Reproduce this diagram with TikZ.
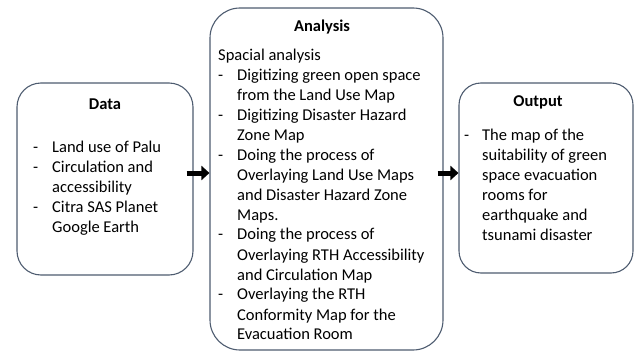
\documentclass[tikz,border=0pt]{standalone}
\usepackage{fontspec}
\setmainfont{Carlito}
\usetikzlibrary{arrows.meta,calc}
\definecolor{boxline}{RGB}{78,92,112}
\tikzset{
  box/.style={draw=boxline, line width=1.1pt, fill=white, inner sep=0pt},
  title/.style={font=\fontsize{16.5}{20}\selectfont\bfseries, inner sep=0pt},
  listtext/.style={font=\fontsize{16.5}{20}\selectfont, inner sep=0pt, anchor=base west, align=left},
  fatarrow/.style={line width=5pt, -{Triangle[length=8pt,width=14pt]}}
}
\begin{document}
\begin{tikzpicture}[x=1pt,y=-1pt]
\useasboundingbox (0,0) rectangle (635,356);
\node[box, rounded corners=24pt, minimum width=176pt, minimum height=192pt] (data) at (105,179) {};
\node[box, rounded corners=30pt, minimum width=233pt, minimum height=342pt] (analysis) at (326.5,179) {};
\node[box, rounded corners=22pt, minimum width=174pt, minimum height=190pt] (output) at (546,178) {};

\node[title] (datatitle) at (105,104) {Data};
\node[title] (analysistitle) at (322,27) {Analysis};
\node[title] (outputtitle) at (538,102) {Output};

\node[listtext] (datalist) at (33,152) {\begin{tabular}[t]{@{}p{19pt}@{}l@{}}
- & Land use of Palu\\
- & Circulation and\\
  & accessibility\\
- & Citra SAS Planet\\
  & Google Earth
\end{tabular}};

\node[listtext] (analysislist) at (218,60) {\begin{tabular}[t]{@{}p{19pt}@{}l@{}}
\multicolumn{2}{@{}l@{}}{Spacial analysis}\\
- & Digitizing green open space\\
  & from the Land Use Map\\
- & Digitizing Disaster Hazard\\
  & Zone Map\\
- & Doing the process of\\
  & Overlaying Land Use Maps\\
  & and Disaster Hazard Zone\\
  & Maps.\\
- & Doing the process of\\
  & Overlaying RTH Accessibility\\
  & and Circulation Map\\
- & Overlaying the RTH\\
  & Conformity Map for the\\
  & Evacuation Room
\end{tabular}};

\node[listtext] (outputlist) at (464,140) {\begin{tabular}[t]{@{}p{18pt}@{}l@{}}
- & The map of the\\
  & suitability of green\\
  & space evacuation\\
  & rooms for\\
  & earthquake and\\
  & tsunami disaster
\end{tabular}};

\draw[fatarrow] ([xshift=-7pt,yshift=6pt]data.east) -- ([yshift=6pt]data.east -| analysis.west);
\draw[fatarrow] ([xshift=-6pt,yshift=6pt]analysis.east) -- ([yshift=6pt]analysis.east -| output.west);
\end{tikzpicture}
\end{document}
